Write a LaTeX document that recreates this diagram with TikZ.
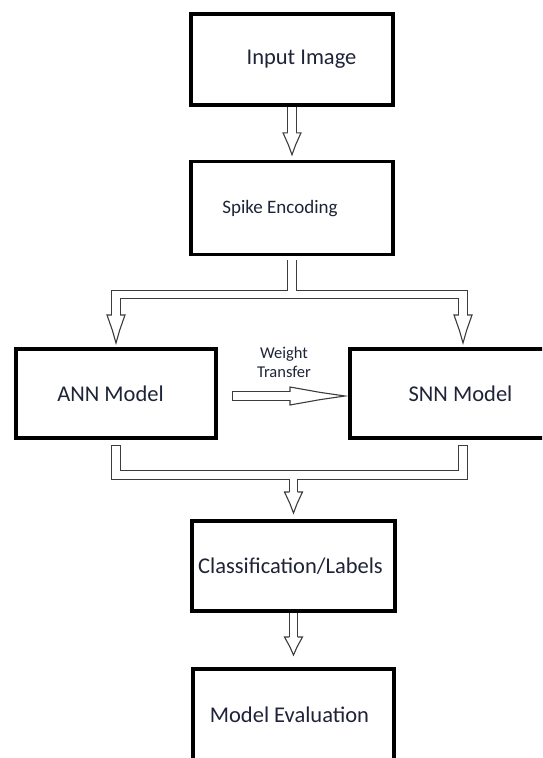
\documentclass[tikz,border=0pt]{standalone}
\usepackage{fontspec}
\setmainfont{Carlito}
\usetikzlibrary{positioning,calc,backgrounds}

\definecolor{inkblue}{RGB}{30,35,55}
\definecolor{pipeedge}{RGB}{60,60,60}

\tikzset{
  pipe/.style={draw=white, line width=7.2pt, line join=miter,
    preaction={draw=pipeedge, line width=9.6pt, shorten <=0pt, shorten >=0pt}},
  pics/bhead/.style={code={
    \filldraw[draw=pipeedge, fill=white, line width=1.1pt, line join=miter]
      (-4.2,#1) -- (-9,#1) -- (-3.6,0.45*#1) -- (0,0) -- (3.6,0.45*#1) -- (9,#1) -- (4.2,#1);
  }},
}

\begin{document}
\begin{tikzpicture}[x=1pt, y=1pt,
box/.style={draw=black, line width=3.6pt, minimum width=202pt, minimum height=91pt, inner sep=0pt},
lbl/.style={font=\fontsize{22.5}{26}\selectfont, text=inkblue},
note/.style={font=\fontsize{16.5}{19}\selectfont, text=inkblue, align=center},
]
\useasboundingbox (0,0) rectangle (542,-758);
\clip (0,0) rectangle (542,-758);

%Boxes
\node[box, label={[lbl,xshift=9.5pt]center:Input Image}]                                     (img)  at (292,-59.5)     {};
\node[box, minimum height=93pt, label={[lbl,font=\fontsize{19}{22}\selectfont,xshift=-12pt]center:Spike Encoding}] (enc) [below=53pt of img] {};
\node[box, minimum width=200.4pt, minimum height=89.4pt, label={[lbl,xshift=-5.5pt]center:ANN Model}] (ann) at (116,-393.5) {};
\node[box, minimum width=226.4pt, minimum height=89.4pt, label={[lbl,xshift=-2.5pt]center:SNN Model}] (snn) [right=130pt of ann] {};
\node[box, minimum width=203.4pt, minimum height=90.4pt, label={[lbl,xshift=-3pt]center:Classification/Labels}] (cls) at (293.5,-566) {};
\node[box, minimum width=201.4pt, label={[lbl,xshift=-4pt]center:Model Evaluation}]        (eval) [below=54pt of cls] {};

\node[note] (wt) at (284,-362.5) {Weight\\Transfer};

%Arrows
\begin{scope}[on background layer]
\draw[pipe] (img.south) -- ($(enc.north)+(0,25)$);
\pic at ($(enc.north)+(0,5)$) {bhead=22};

\coordinate (spl) at ($(enc.south)+(0,-38)$);
\draw[pipe, shorten <=1.2pt] ($(enc.south)+(0,-4)$) -- (spl) -| ($(ann.north)+(0,30)$)
            (spl) -| ($(snn.north)+(0,30)$);
\pic at ($(ann.north)+(0,4)$) {bhead=28};
\pic at ($(snn.north)+(0,4)$) {bhead=28};

\draw[pipe, shorten <=1.2pt] ($(ann.east)+(14,-2.5)$) -- ($(snn.west)+(-56,-2.5)$);
\pic[rotate=90] at ($(snn.west)+(-3,-2.5)$) {bhead=55};

\coordinate (mrg) at ($(cls.north)+(0,44)$);
\draw[pipe, shorten <=1.2pt, shorten >=1.2pt] ($(ann.south)+(0,-5)$) |- (mrg) -| ($(snn.south)+(0,-5)$);
\draw[pipe] ($(mrg)+(0,-3.6)$) -- ($(cls.north)+(0,25)$);
\pic at ($(cls.north)+(0,6)$) {bhead=21};

\draw[pipe] (cls.south) -- ($(eval.north)+(0,28)$);
\pic at ($(eval.north)+(0,12)$) {bhead=18};
\end{scope}

\end{tikzpicture}
\end{document}
